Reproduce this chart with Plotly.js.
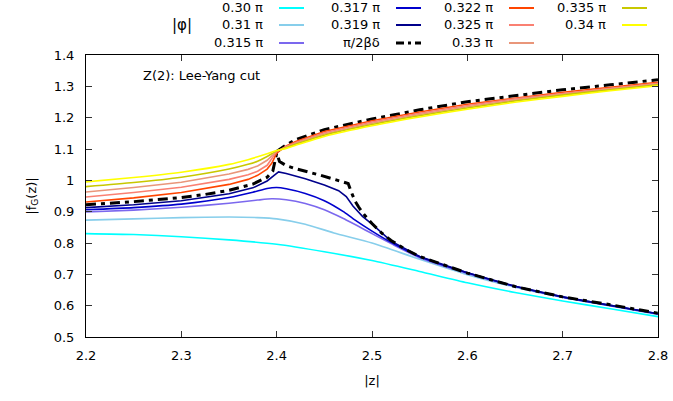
<!DOCTYPE html>
<html>
<head>
<meta charset="utf-8">
<script src="https://cdn.plot.ly/plotly-3.0.1.min.js"></script>
<style>html,body{margin:0;padding:0;background:#fff;}#chart{width:673px;height:401px;}</style>
</head>
<body>
<div id="chart"></div>
<script>
// ---- data ----
const z030 = [2.2,2.25,2.3,2.35,2.4,2.45,2.5,2.55,2.6,2.65,2.7,2.75,2.8];
const f030 = [0.830,0.827,0.820,0.810,0.796,0.772,0.744,0.709,0.673,0.642,0.615,0.590,0.565];

const z031 = [2.2,2.25,2.3,2.35,2.38,2.4,2.43,2.46,2.5,2.55,2.6,2.65,2.7,2.75,2.8];
const f031 = [0.873,0.877,0.881,0.883,0.881,0.877,0.860,0.832,0.800,0.748,0.699,0.659,0.626,0.599,0.572];

const z0315 = [2.2,2.25,2.3,2.35,2.38,2.395,2.41,2.43,2.45,2.47,2.5,2.52,2.55,2.6,2.65,2.7,2.75,2.8];
const f0315 = [0.899,0.905,0.914,0.927,0.937,0.941,0.938,0.926,0.906,0.878,0.830,0.798,0.753,0.703,0.661,0.627,0.600,0.573];

const z0317 = [2.2,2.25,2.3,2.35,2.375,2.39,2.4,2.41,2.43,2.45,2.47,2.48,2.5,2.52,2.55,2.6,2.65,2.7,2.75,2.8];
const f0317 = [0.906,0.913,0.924,0.945,0.962,0.974,0.977,0.973,0.958,0.935,0.900,0.878,0.838,0.802,0.756,0.705,0.662,0.628,0.601,0.574];

const z0319 = [2.2,2.25,2.3,2.325,2.35,2.375,2.39,2.397,2.402,2.41,2.43,2.45,2.465,2.473,2.48,2.49,2.5,2.52,2.55,2.6,2.65,2.7,2.75,2.8];
const f0319 = [0.913,0.922,0.935,0.945,0.957,0.976,0.998,1.015,1.027,1.022,1.005,0.985,0.967,0.948,0.918,0.885,0.860,0.806,0.757,0.705,0.662,0.628,0.601,0.574];

const zCritLow = [2.2,2.25,2.3,2.325,2.35,2.375,2.39,2.396,2.4,2.403,2.41,2.42,2.445,2.466,2.475,2.478,2.482,2.486,2.49,2.5,2.51,2.52,2.535,2.55,2.6,2.65,2.7,2.75,2.8];
const fCritLow = [0.922,0.932,0.945,0.955,0.968,0.988,1.010,1.030,1.087,1.060,1.047,1.037,1.017,0.997,0.990,0.965,0.935,0.915,0.897,0.862,0.832,0.808,0.780,0.757,0.704,0.661,0.628,0.603,0.576];
const zCritUp = [2.4,2.41,2.42,2.45,2.5,2.55,2.6,2.65,2.7,2.75,2.8];
const fCritUp = [1.092,1.113,1.130,1.162,1.196,1.225,1.251,1.271,1.289,1.305,1.321];

const z0322 = [2.2,2.25,2.3,2.325,2.35,2.37,2.38,2.39,2.395,2.4,2.405,2.41,2.42,2.45,2.5,2.55,2.6,2.65,2.7,2.75,2.8];
const f0322 = [0.931,0.944,0.961,0.973,0.987,1.003,1.016,1.036,1.055,1.087,1.100,1.110,1.124,1.156,1.190,1.218,1.243,1.263,1.281,1.297,1.313];

const zUpper = [2.2,2.25,2.3,2.35,2.37,2.38,2.39,2.4,2.41,2.42,2.45,2.5,2.55,2.6,2.65,2.7,2.75,2.8];
const f0325 = [0.947,0.961,0.978,1.003,1.018,1.029,1.048,1.092,1.108,1.121,1.152,1.186,1.214,1.239,1.260,1.278,1.294,1.310];
const f033  = [0.963,0.977,0.994,1.020,1.035,1.046,1.064,1.093,1.106,1.118,1.148,1.182,1.210,1.235,1.256,1.275,1.291,1.307];
const f0335 = [0.980,0.993,1.010,1.036,1.051,1.061,1.076,1.094,1.104,1.115,1.144,1.178,1.206,1.231,1.253,1.272,1.289,1.305];
const f034  = [0.995,1.009,1.026,1.051,1.066,1.075,1.085,1.095,1.102,1.112,1.140,1.174,1.202,1.227,1.249,1.268,1.286,1.302];

const xTicks = [2.2,2.3,2.4,2.5,2.6,2.7,2.8];
const yTicks = [0.5,0.6,0.7,0.8,0.9,1,1.1,1.2,1.3,1.4];

// legend entries (gnuplot column-major order)
const legendNames = ['0.30 π','0.31 π','0.315 π','0.317 π','0.319 π','π/2βδ','0.322 π','0.325 π','0.33 π','0.335 π','0.34 π'];
const colors = ['#00ffff','#87ceeb','#7b68ee','#0000cd','#00008b','#000000','#ff4500','#fa8072','#e9967a','#c8c800','#ffff00'];

const BLACKDASH = '10px,5px,4px,5px';
function tr(x, y, i, shape, w) {
  return {x: x, y: y, type: 'scatter', mode: 'lines', showlegend: false, hoverinfo: 'skip',
          line: {color: colors[i], width: w || 1.6, shape: shape || 'linear', smoothing: 0.6}};
}
const traces = [
  tr(z030, f030, 0, 'spline'),
  tr(z031, f031, 1, 'spline'),
  tr(z0315, f0315, 2, 'spline'),
  tr(z0317, f0317, 3, 'spline'),
  tr(z0319, f0319, 4),
  Object.assign(tr(zCritLow, fCritLow, 5, 'linear', 3), {}),
  Object.assign(tr(zCritUp, fCritUp, 5, 'linear', 3), {}),
  tr(z0322, f0322, 6),
  tr(zUpper, f0325, 7),
  tr(zUpper, f033, 8),
  tr(zUpper, f0335, 9, 'spline'),
  tr(zUpper, f034, 10, 'spline')
];
traces[5].line.dash = BLACKDASH;
traces[6].line.dash = BLACKDASH;

// plot area in pixels: left 86, right 658, top 55, bottom 337
const L = 86, R = 658, T = 55, B = 337;
const px = v => (v - L) / (R - L);
const py = v => (B - v) / (B - T);

const colTextRight = [265, 382, 495, 608];
const rowY = [8, 25, 43];
const annotations = [];
const shapes = [];
const FONT = 'DejaVu Sans, Liberation Sans, sans-serif';
legendNames.forEach((name, i) => {
  const c = Math.floor(i / 3), r = i % 3;
  const xr = colTextRight[c], y = rowY[r];
  annotations.push({text: name, xref: 'paper', yref: 'paper', x: px(xr), y: py(y),
    xanchor: 'right', yanchor: 'middle', showarrow: false, font: {family: FONT, size: 13, color: '#000'}});
  shapes.push({type: 'line', xref: 'paper', yref: 'paper', x0: px(xr + 14), x1: px(xr + 39), y0: py(y), y1: py(y),
    line: {color: colors[i], width: i === 5 ? 3 : 2, dash: i === 5 ? '8px,4px,3px,4px' : 'solid'}});
});
annotations.push({text: '|φ|', xref: 'paper', yref: 'paper', x: px(182), y: py(25), xanchor: 'center', yanchor: 'middle',
  showarrow: false, font: {family: FONT, size: 15, color: '#000'}});
annotations.push({text: 'Z(2): Lee-Yang cut', xref: 'paper', yref: 'paper', x: px(141), y: py(75), xanchor: 'left', yanchor: 'middle',
  showarrow: false, font: {family: FONT, size: 13, color: '#000'}});

const axisCommon = {
  showgrid: false, zeroline: false, showline: true, linecolor: '#000', linewidth: 1,
  ticks: 'inside', ticklen: 6, tickcolor: '#333', tickwidth: 1, mirror: 'ticks',
  tickfont: {family: FONT, size: 13, color: '#000'}
};
const layout = {
  width: 673, height: 401,
  margin: {l: L, r: 673 - R, t: T, b: 401 - B},
  paper_bgcolor: '#fff', plot_bgcolor: '#fff',
  showlegend: false,
  xaxis: Object.assign({}, axisCommon, {range: [2.2, 2.8], tickvals: xTicks, ticktext: xTicks.map(v => v.toFixed(1)),
    ticklabelstandoff: 6,
    title: {text: '|z|', font: {family: FONT, size: 13, color: '#000'}, standoff: 14}}),
  yaxis: Object.assign({}, axisCommon, {range: [0.5, 1.4], tickvals: yTicks, ticktext: yTicks.map(v => String(v)),
    ticklabelstandoff: 8,
    title: {text: '|f<sub>G</sub>(z)|', font: {family: FONT, size: 13, color: '#000'}, standoff: 14}}),
  annotations: annotations,
  shapes: shapes
};
Plotly.newPlot('chart', traces, layout, {displayModeBar: false, staticPlot: true});
</script>
</body>
</html>
